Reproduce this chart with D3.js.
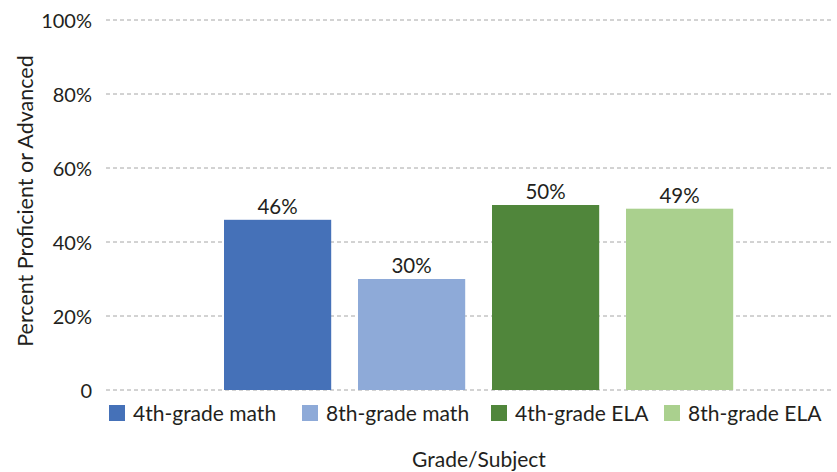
<!DOCTYPE html>
<html>
<head>
<meta charset="utf-8">
<script src="https://cdn.jsdelivr.net/npm/d3@7"></script>
<style>
  body { margin: 0; background: #fff; }
  svg text { font-family: Lato, "Open Sans", sans-serif; fill: #231f20; }
</style>
</head>
<body>
<svg id="chart" width="837" height="472"></svg>
<script>
// Share of students scoring proficient or advanced, by grade and subject
const categories = ["4th-grade math", "8th-grade math", "4th-grade ELA", "8th-grade ELA"];
const values = [46, 30, 50, 49];
const colors = ["#4571b8", "#8eaad8", "#50863b", "#aad08e"];
const yTicks = [0, 20, 40, 60, 80, 100];
const yTickLabels = ["0", "20%", "40%", "60%", "80%", "100%"];

const svg = d3.select("#chart");
const plot = { left: 106, right: 833, top: 20, bottom: 390 };

const y = d3.scaleLinear().domain([0, 100]).range([plot.bottom, plot.top]);
const x = d3.scaleBand().domain(categories).range([210.6, 746.6])
  .paddingInner(0.2).paddingOuter(0.1);

// dashed gridlines
svg.append("g").selectAll("line").data(yTicks).join("line")
  .attr("x1", plot.left).attr("x2", plot.right)
  .attr("y1", d => y(d)).attr("y2", d => y(d))
  .attr("stroke", "#a6a6a6").attr("stroke-width", 1)
  .attr("stroke-dasharray", "4,3");

// y-axis tick labels
const yAxis = d3.axisLeft(y).tickValues(yTicks)
  .tickFormat((d, i) => yTickLabels[i]).tickSize(0).tickPadding(0);
const yG = svg.append("g").attr("transform", "translate(92,0)").call(yAxis);
yG.select(".domain").remove();
yG.selectAll("text")
  .style("font-size", "20px").style("font-family", "Lato, sans-serif")
  .attr("fill", "#231f20").attr("dy", "0.36em");

// bars
svg.append("g").selectAll("rect").data(values).join("rect")
  .attr("x", (d, i) => x(categories[i]))
  .attr("width", x.bandwidth())
  .attr("y", d => y(d))
  .attr("height", d => y(0) - y(d))
  .attr("fill", (d, i) => colors[i]);

// value labels
svg.append("g").selectAll("text").data(values).join("text")
  .attr("x", (d, i) => x(categories[i]) + x.bandwidth() / 2)
  .attr("y", d => y(d) - 6)
  .attr("text-anchor", "middle")
  .style("font-size", "20.5px")
  .text(d => d + "%");

// legend
const legendX = [109, 302, 491, 664];
const lg = svg.append("g").selectAll("g").data(categories).join("g")
  .attr("transform", (d, i) => `translate(${legendX[i]},405)`);
lg.append("rect").attr("width", 16).attr("height", 16).attr("fill", (d, i) => colors[i]);
lg.append("text").attr("x", 24).attr("y", 16).style("font-size", "21px").text(d => d);

// axis titles
svg.append("text")
  .attr("transform", "translate(33,201) rotate(-90)")
  .attr("text-anchor", "middle")
  .style("font-size", "21.5px")
  .text("Percent Proficient or Advanced");

svg.append("text")
  .attr("x", 479).attr("y", 467)
  .attr("text-anchor", "middle")
  .style("font-size", "21px")
  .text("Grade/Subject");
</script>
</body>
</html>
